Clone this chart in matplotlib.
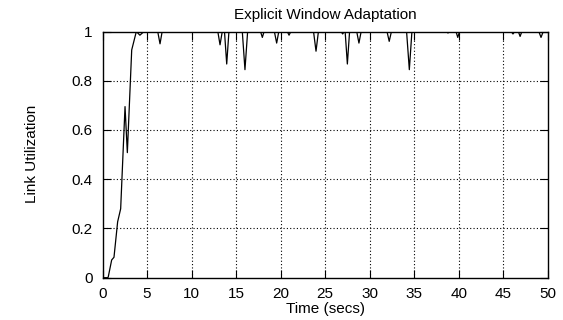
import matplotlib
matplotlib.use("Agg")
import matplotlib.pyplot as plt

plt.rcParams['font.family'] = ['Liberation Sans', 'DejaVu Sans']

title = "Explicit Window Adaptation"
xlabel = "Time (secs)"
ylabel = "Link Utilization"

time_s = [0, 0.6, 0.65, 1.03, 1.29, 1.7, 2.04, 2.53, 2.79, 3.28, 3.8, 4.2, 4.66,
          6.2, 6.46, 6.7, 12.95, 13.2, 13.45, 13.7, 13.95, 14.2, 15.7, 16.0, 16.3,
          17.75, 17.95, 18.15, 19.3, 19.56, 19.8, 20.75, 20.95, 21.15, 23.7, 23.98,
          24.25, 26.8, 26.97, 27.15, 27.25, 27.5, 27.75, 28.55, 28.8, 29.05, 31.95,
          32.2, 32.45, 34.15, 34.46, 34.75, 38.6, 38.8, 39.0, 39.7, 39.9, 40.1,
          45.9, 46.1, 46.3, 46.7, 46.9, 47.1, 49.0, 49.25, 49.5, 50]
utilization = [0, 0, 0.004, 0.072, 0.083, 0.227, 0.28, 0.695, 0.508, 0.925, 1.0, 0.985, 1.0,
               1.0, 0.95, 1.0, 1.0, 0.946, 1.0, 1.0, 0.868, 1.0, 1.0, 0.845, 1.0,
               1.0, 0.976, 1.0, 1.0, 0.953, 1.0, 1.0, 0.985, 1.0, 1.0, 0.92,
               1.0, 1.0, 0.99, 1.0, 1.0, 0.868, 1.0, 1.0, 0.953, 1.0, 1.0,
               0.96, 1.0, 1.0, 0.845, 1.0, 1.0, 0.994, 1.0, 1.0, 0.976, 1.0,
               1.0, 0.99, 1.0, 1.0, 0.98, 1.0, 1.0, 0.976, 1.0, 1.0]

xticks = [0, 5, 10, 15, 20, 25, 30, 35, 40, 45, 50]
yticks = [0, 0.2, 0.4, 0.6, 0.8, 1.0]
yticklabels = ["0", "0.2", "0.4", "0.6", "0.8", "1"]

W, H = 563, 320
fig = plt.figure(figsize=(W / 100, H / 100), dpi=100)
L, R, T, B = 102.5, 547.7, 31.5, 277.7
ax = fig.add_axes([L / W, 1 - B / H, (R - L) / W, (B - T) / H])

ax.plot(time_s, utilization, color='black', linewidth=0.9, zorder=3)
ax.set_xlim(0, 50)
ax.set_ylim(0, 1)
ax.set_xticks(xticks)
ax.set_yticks(yticks)
ax.set_yticklabels(yticklabels)

for x in xticks[1:-1]:
    ax.axvline(x, color='black', linestyle=(0, (1, 2)), linewidth=0.8, zorder=1)
for y in yticks[1:-1]:
    ax.axhline(y, color='black', linestyle=(0, (1, 2)), linewidth=0.8, zorder=1)

ax.tick_params(direction='in', length=5.5, width=0.8, top=True, right=True,
               labelsize=11, colors='black')
ax.tick_params(axis='x', pad=7)
ax.tick_params(axis='y', pad=7)
for s in ax.spines.values():
    s.set_linewidth(1.0)

fs = 11
fig.text((L + R) / 2 / W, 1 - 15.5 / H, title, fontsize=fs, ha='center', va='center')
fig.text((L + R) / 2 / W, 1 - 309.5 / H, xlabel, fontsize=fs, ha='center', va='center')
fig.text(32 / W, 1 - 154 / H, ylabel, fontsize=fs, ha='center', va='center',
         rotation=90)

fig.savefig("out.png", dpi=100)
